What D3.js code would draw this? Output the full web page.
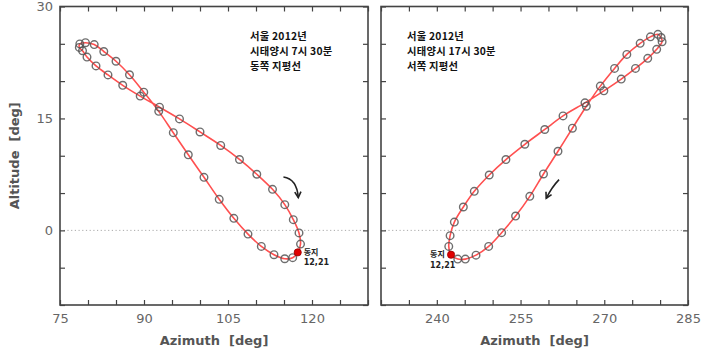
<!DOCTYPE html>
<html><head><meta charset="utf-8">
<script src="https://cdn.jsdelivr.net/npm/d3@7"></script>
<style>body{margin:0;background:#fff}svg{display:block}</style>
</head><body>
<svg id="c" width="706" height="355"></svg>
<script>
// ---- data ----
const leftAz  = [117.45,117.95,117.68,116.66,115.14,112.95,110.14,107.05,103.70,100.00,96.34,92.77,89.32,86.20,83.57,81.43,79.82,79.02,78.45,78.54,79.55,81.11,82.82,85.00,87.41,89.96,92.63,95.23,97.91,100.71,103.43,106.04,108.57,110.95,113.21,115.13,116.55];
const leftAlt = [-2.95,-1.84,-0.34,1.44,3.45,5.50,7.52,9.50,11.38,13.19,14.94,16.51,17.99,19.44,20.83,22.04,23.22,24.07,24.52,24.99,25.15,24.90,23.97,22.66,20.85,18.52,15.95,13.09,10.13,7.11,4.16,1.61,-0.50,-2.15,-3.26,-3.80,-3.66];
const rightAz  = [242.55,242.14,242.38,243.14,244.75,246.71,249.39,252.38,255.77,259.34,262.61,266.54,269.93,273.04,275.59,277.79,279.39,280.36,280.18,279.61,278.27,276.43,274.04,271.84,269.29,266.79,264.29,261.71,259.11,256.66,254.11,251.61,249.29,247.02,245.11,243.75];
const rightAlt = [-3.26,-2.15,-0.71,1.11,3.13,5.23,7.42,9.49,11.54,13.52,15.34,17.09,18.70,20.27,21.70,23.05,24.26,25.28,25.84,26.27,25.93,25.06,23.58,21.70,19.33,16.64,13.69,10.60,7.56,4.56,1.92,-0.31,-2.15,-3.32,-3.85,-3.85];
const leftDomain = [75,130], rightDomain = [230,285];
const altDomain = [-10,30];
const leftXLabels = [75,90,105,120], rightXLabels = [240,255,270,285];
const yLabels = [0,15,30];
const leftTitle = ["서울 2012년","시태양시 7시 30분","동쪽 지평선"];
const rightTitle = ["서울 2012년","시태양시 17시 30분","서쪽 지평선"];
const solsticeLabel = ["동지","12,21"];
// arrows in data units: start, control, end
const leftArrow  = [[114.9,7.15],[117.3,6.9],[117.55,4.4]];
const rightArrow = [[261.9,6.8],[260.6,5.8],[259.6,4.3]];

// ---- drawing ----
const svg = d3.select("#c");
const y = d3.scaleLinear().domain(altDomain).range([305,6.5]);
const font = "DejaVu Sans, Verdana, sans-serif";
const kfont = "'Noto Sans CJK KR', sans-serif";

function panel(x0,x1,domain,az,alt,xLabels,showY,title,titleX,arrow,solDx,solDy){
  const x = d3.scaleLinear().domain(domain).range([x0,x1]);
  const g = svg.append("g");
  const ticks = d3.range(domain[0],domain[1]+0.1,5);
  const yt = d3.range(altDomain[0],altDomain[1]+0.1,5);
  // zero dotted line
  g.append("line").attr("x1",x0).attr("x2",x1).attr("y1",y(0)).attr("y2",y(0))
    .attr("stroke","#aaa").attr("stroke-width",1).attr("stroke-dasharray","1.2,2.5");
  // axes
  const fmtX = d => xLabels.includes(d) ? d : "";
  const ax = g.append("g").attr("transform",`translate(0,${y.range()[0]})`)
    .call(d3.axisBottom(x).tickValues(ticks).tickSizeInner(-5).tickSizeOuter(0).tickPadding(9).tickFormat(fmtX));
  const axT = g.append("g").attr("transform",`translate(0,${y.range()[1]})`)
    .call(d3.axisTop(x).tickValues(ticks).tickSizeInner(-5).tickSizeOuter(0).tickFormat(""));
  const ay = g.append("g").attr("transform",`translate(${x0},0)`)
    .call(d3.axisLeft(y).tickValues(yt).tickSizeInner(-5).tickSizeOuter(0).tickPadding(7).tickFormat(d => showY && yLabels.includes(d) ? d : ""));
  const ayR = g.append("g").attr("transform",`translate(${x1},0)`)
    .call(d3.axisRight(y).tickValues(yt).tickSizeInner(-5).tickSizeOuter(0).tickFormat(""));
  [ax,axT,ay,ayR].forEach(a=>{
    a.select(".domain").remove();
    a.selectAll(".tick line").attr("stroke","#444").attr("stroke-width",1.2);
    a.selectAll("text").attr("fill","#666").style("font-family",font).style("font-size","13px");
  });
  g.append("rect").attr("x",x0).attr("y",y.range()[1]).attr("width",x1-x0).attr("height",y.range()[0]-y.range()[1])
    .attr("fill","none").attr("stroke","#444").attr("stroke-width",1.6);
  // x title
  g.append("text").attr("x",(x0+x1)/2).attr("y",345).attr("text-anchor","middle")
    .style("font-family",font).style("font-size","13px").style("font-weight","bold").attr("fill","#555")
    .attr("xml:space","preserve").text("Azimuth  [deg]");
  // curve
  const pts = az.map((a,i)=>[x(a),y(alt[i])]);
  g.append("path").attr("d",d3.line().curve(d3.curveCatmullRomClosed.alpha(0.5))(pts))
    .attr("fill","none").attr("stroke","#ff5050").attr("stroke-width",1.6);
  g.selectAll("circle.m").data(pts.slice(1)).join("circle").attr("class","m")
    .attr("cx",d=>d[0]).attr("cy",d=>d[1]).attr("r",3.8)
    .attr("fill","none").attr("stroke","#555").attr("stroke-width",1.4).attr("stroke-opacity",0.85);
  g.append("circle").attr("cx",pts[0][0]).attr("cy",pts[0][1]).attr("r",3.6)
    .attr("fill","#e00000").attr("stroke","#900").attr("stroke-width",0.8);
  // solstice label (two separate texts)
  g.append("text").attr("x",pts[0][0]+solDx).attr("y",pts[0][1]+solDy)
    .style("font-family",kfont).style("font-size","8px").style("font-weight","bold").attr("fill","#222")
    .text(solsticeLabel[0]);
  g.append("text").attr("x",pts[0][0]+solDx).attr("y",pts[0][1]+solDy+10.5)
    .style("font-family",font).style("font-size","8px").style("font-weight","bold").attr("fill","#222")
    .text(solsticeLabel[1]);
  // title (separate lines)
  title.forEach((s,i)=>{
    g.append("text").attr("x",titleX).attr("y",40+i*15)
      .style("font-family",kfont).style("font-size","10.3px").style("font-weight","bold")
      .style("letter-spacing","0.25px").attr("fill","#111").text(s);
  });
  // arrow
  const a = arrow.map(p=>[x(p[0]),y(p[1])]);
  g.append("path").attr("d",`M${a[0]}Q${a[1]} ${a[2]}`).attr("fill","none").attr("stroke","#222").attr("stroke-width",1.6);
  const ang = Math.atan2(a[2][1]-a[1][1],a[2][0]-a[1][0]);
  const L=6.5, w=0.5;
  const h1=[a[2][0]-L*Math.cos(ang-w),a[2][1]-L*Math.sin(ang-w)];
  const h2=[a[2][0]-L*Math.cos(ang+w),a[2][1]-L*Math.sin(ang+w)];
  g.append("path").attr("d",`M${h1}L${a[2]}L${h2}`).attr("fill","none").attr("stroke","#222").attr("stroke-width",1.6);
}
panel(60,368,leftDomain,leftAz,leftAlt,leftXLabels,true,leftTitle,250,leftArrow,6,2.5);
panel(381,688,rightDomain,rightAz,rightAlt,rightXLabels,false,rightTitle,407,rightArrow,-21,2.5);
// y title
svg.append("text").attr("transform",`translate(19,${(y.range()[0]+y.range()[1])/2}) rotate(-90)`)
  .attr("text-anchor","middle").style("font-family",font).style("font-size","13px").style("font-weight","bold")
  .attr("fill","#555").attr("xml:space","preserve").text("Altitude  [deg]");
</script>
</body></html>
